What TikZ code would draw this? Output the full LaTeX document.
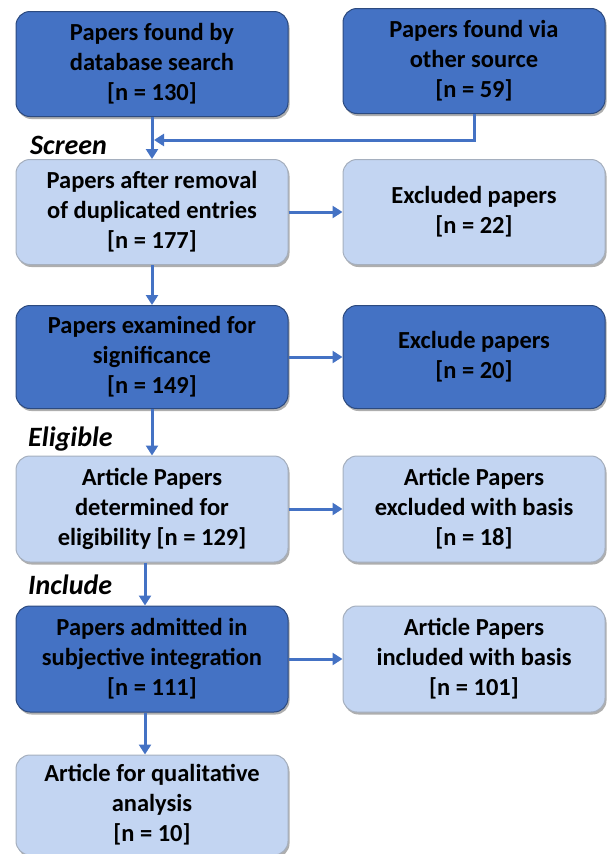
\documentclass[tikz,border=0pt]{standalone}
\usepackage{fontspec}
\setmainfont{Carlito}
\usetikzlibrary{shadows,arrows.meta}
\definecolor{dk}{HTML}{4472C4}
\definecolor{lt}{HTML}{C3D5F2}
\definecolor{arrc}{HTML}{4472C4}
\begin{document}
\begin{tikzpicture}[x=1pt,y=-1pt,
 box/.style={rounded corners=14pt, minimum width=272pt, minimum height=105pt, inner sep=0pt, align=center,
   font=\fontsize{24.5}{30}\selectfont\bfseries,
   execute at begin node={\vspace*{5pt}},
   drop shadow={shadow xshift=1.5pt, shadow yshift=-2.5pt, opacity=0.45, fill=black!70}},
 dbox/.style={box, fill=dk, draw=dk!65!black, line width=1pt},
 lbox/.style={box, fill=lt, draw=lt!55!gray, line width=1pt},
 rbox/.style={minimum width=262pt},
 con/.style={draw=arrc, line width=3pt, -{Triangle[length=10pt,width=12pt]}},
 stage/.style={font=\fontsize{28}{32}\selectfont\bfseries\itshape, anchor=base west, inner sep=0pt}]
\useasboundingbox (0,0) rectangle (606,854);

\node[dbox] (b1) at (152,64) {Papers found by\\database search\\{[n = 130]}};
\node[dbox,rbox] (b2) at (474,61) {Papers found via\\other source\\{[n = 59]}};
\node[lbox] (b3) at (152,212) {Papers after removal\\of duplicated entries\\{[n = 177]}};
\node[lbox,rbox] (b4) at (474,212) {Excluded papers\\{[n = 22]}};
\node[dbox,minimum height=103pt] (b5) at (152,357) {Papers examined for\\significance\\{[n = 149]}};
\node[dbox,rbox,minimum height=103pt] (b6) at (474,357) {Exclude papers\\{[n = 20]}};
\node[lbox,minimum height=106pt] (b7) at (152,509) {Article Papers\\determined for\\eligibility [n = 129]};
\node[lbox,rbox,minimum height=106pt] (b8) at (474,509) {Article Papers\\excluded with basis\\{[n = 18]}};
\node[dbox,minimum height=106pt] (b9) at (152,659) {Papers admitted in\\subjective integration\\{[n = 111]}};
\node[lbox,rbox,minimum height=106pt] (b10) at (474,659) {Article Papers\\included with basis\\{[n = 101]}};
\node[lbox,minimum height=100pt] (b11) at (152,805) {Article for qualitative\\analysis\\{[n = 10]}};

\node[stage] (s1) at (30,154) {Screen};
\node[stage] (s2) at (28,446) {Eligible};
\node[stage] (s3) at (28,594) {Include};

\coordinate (j) at (154,140);
\draw[con] (b1) -- (b3);
\draw[con] (b2.south) |- (j);
\draw[con] (b3) -- (b4);
\draw[con] (b3) -- (b5);
\draw[con] (b5) -- (b6);
\draw[con] (b5) -- (b7);
\draw[con] (b7) -- (b8);
\draw[con] ([xshift=-7pt]b7.south) -- ([xshift=-7pt]b9.north);
\draw[con] (b9) -- (b10);
\draw[con] ([xshift=-7pt]b9.south) -- ([xshift=-7pt]b11.north);
\end{tikzpicture}
\end{document}
